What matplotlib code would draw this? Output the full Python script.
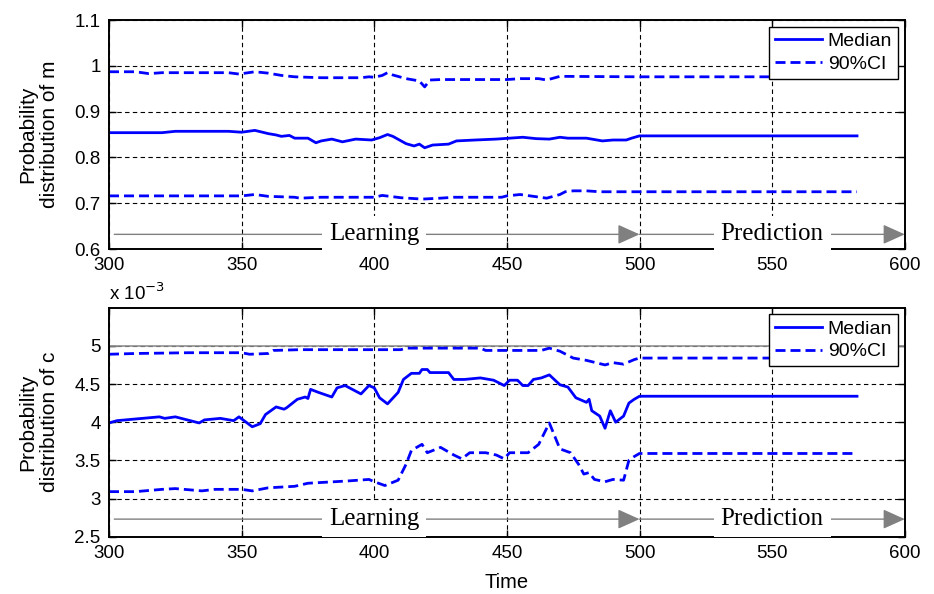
import matplotlib.pyplot as plt
import numpy as np

# ---- data ----
# parameter m
t_m_med = [300, 320, 325, 345, 350, 355, 360, 363, 365, 368, 370, 375, 378, 380, 384, 388, 393, 399,
           402, 405, 407, 412, 415, 417, 419, 422, 428, 431, 438, 446, 456, 461, 466, 470, 473, 480,
           486, 490, 495, 497, 500, 582]
m_med = [0.854, 0.854, 0.857, 0.857, 0.855, 0.859, 0.852, 0.849, 0.846, 0.848, 0.842, 0.842, 0.832,
         0.836, 0.840, 0.834, 0.840, 0.838, 0.843, 0.850, 0.846, 0.830, 0.825, 0.829, 0.821, 0.827,
         0.829, 0.836, 0.838, 0.840, 0.844, 0.841, 0.840, 0.844, 0.842, 0.842, 0.836, 0.838, 0.838,
         0.842, 0.847, 0.847]

t_m_hi = [300, 310, 315, 320, 345, 349, 355, 360, 365, 370, 375, 380, 395, 398, 400, 403, 405, 407,
          412, 417, 419, 421, 425, 450, 455, 462, 465, 470, 500, 582]
m_hi = [0.987, 0.987, 0.983, 0.985, 0.985, 0.982, 0.987, 0.984, 0.979, 0.976, 0.975, 0.974, 0.974,
        0.976, 0.975, 0.979, 0.985, 0.980, 0.972, 0.967, 0.954, 0.969, 0.970, 0.970, 0.972, 0.972,
        0.969, 0.977, 0.976, 0.976]

t_m_lo = [300, 350, 355, 360, 370, 372, 380, 400, 403, 410, 418, 425, 430, 448, 450, 455, 460, 465,
          470, 472, 475, 480, 485, 500, 582]
m_lo = [0.716, 0.716, 0.719, 0.715, 0.713, 0.711, 0.713, 0.713, 0.717, 0.712, 0.709, 0.711, 0.713,
        0.713, 0.716, 0.719, 0.715, 0.711, 0.719, 0.725, 0.727, 0.727, 0.725, 0.725, 0.725]

# parameter c (x 10^-3)
t_c_med = [300, 303, 319, 321, 325, 334, 336, 342, 347, 349, 354, 357, 359, 363, 366, 367, 371, 374,
           375, 376, 379, 384, 386, 389, 395, 398, 400, 402, 405, 409, 411, 414, 417, 418, 420, 421,
           428, 430, 434, 440, 445, 449, 451, 454, 456, 458, 460, 463, 466, 470, 473, 476, 480, 481,
           482, 485, 487, 489, 491, 494, 496, 498, 500, 582]
c_med = [3.99, 4.02, 4.07, 4.05, 4.07, 3.99, 4.03, 4.05, 4.02, 4.07, 3.94, 3.98, 4.10, 4.20, 4.17,
         4.19, 4.30, 4.33, 4.31, 4.43, 4.39, 4.33, 4.45, 4.48, 4.37, 4.48, 4.45, 4.32, 4.24, 4.39,
         4.56, 4.64, 4.64, 4.69, 4.69, 4.65, 4.65, 4.56, 4.56, 4.58, 4.55, 4.48, 4.55, 4.55, 4.48,
         4.48, 4.56, 4.58, 4.62, 4.49, 4.46, 4.32, 4.26, 4.30, 4.15, 4.08, 3.92, 4.15, 4.00, 4.08,
         4.25, 4.30, 4.34, 4.34]

t_c_hi = [300, 310, 330, 350, 353, 360, 362, 372, 410, 412, 440, 442, 463, 466, 470, 475, 480, 487,
          490, 494, 498, 500, 582]
c_hi = [4.89, 4.90, 4.91, 4.91, 4.89, 4.90, 4.94, 4.95, 4.95, 4.97, 4.97, 4.94, 4.94, 4.97, 4.93,
        4.84, 4.81, 4.75, 4.78, 4.76, 4.82, 4.84, 4.84]

t_c_lo = [300, 310, 320, 325, 335, 340, 350, 354, 360, 370, 375, 380, 390, 398, 400, 404, 409, 412,
          414, 418, 420, 425, 430, 433, 436, 442, 446, 449, 451, 458, 462, 466, 470, 474, 477, 479,
          481, 483, 487, 490, 494, 496, 498, 500, 582]
c_lo = [3.09, 3.09, 3.12, 3.13, 3.10, 3.12, 3.12, 3.10, 3.14, 3.16, 3.20, 3.21, 3.23, 3.25, 3.22,
        3.17, 3.24, 3.45, 3.63, 3.71, 3.60, 3.67, 3.57, 3.52, 3.60, 3.60, 3.57, 3.52, 3.60, 3.60,
        3.71, 3.99, 3.65, 3.60, 3.45, 3.32, 3.34, 3.25, 3.22, 3.25, 3.24, 3.50, 3.55, 3.59, 3.59]

x_ticks = [300, 350, 400, 450, 500, 550, 600]
m_ticks = [0.6, 0.7, 0.8, 0.9, 1.0, 1.1]
c_ticks = [2.5, 3, 3.5, 4, 4.5, 5]

plt.rcParams['font.family'] = ['Liberation Sans', 'DejaVu Sans']
plt.rcParams['font.size'] = 13.5

fig = plt.figure(figsize=(9.34, 5.94), dpi=100)
ax1 = fig.add_axes([0.1167, 0.5808, 0.852, 0.3855])
ax2 = fig.add_axes([0.1167, 0.0965, 0.852, 0.3855])

blue = '#0000ff'
dash = (0, (3.6, 1.8))
lw = 2.0

def style(ax, yticks, ylim):
    ax.set_xlim(300, 600)
    ax.set_ylim(*ylim)
    ax.set_xticks(x_ticks)
    ax.set_yticks(yticks)
    ax.set_yticklabels(['%g' % v for v in yticks])
    ax.grid(True, color='black', linestyle=(0, (4, 3)), linewidth=0.8)
    ax.set_axisbelow(True)
    ax.tick_params(direction='in', top=True, right=True, length=5, width=1, labelsize=13.5, pad=6)
    for s in ax.spines.values():
        s.set_linewidth(1.4)

def arrows(ax, y):
    kw = dict(arrowstyle='-|>,head_length=1.0,head_width=0.45', color='#808080', lw=1.0,
              shrinkA=0, shrinkB=0)
    ax.annotate('', xy=(500, y), xytext=(302, y), arrowprops=kw)
    ax.annotate('', xy=(600, y), xytext=(500, y), arrowprops=kw)
    tb = dict(facecolor='white', edgecolor='none', pad=5)
    ax.text(400, y, 'Learning', family='Liberation Serif', fontsize=18, ha='center', va='center', bbox=tb)
    ax.text(550, y, 'Prediction', family='Liberation Serif', fontsize=18, ha='center', va='center', bbox=tb)

def legend(ax):
    ax.legend(loc='upper right', fancybox=False, edgecolor='black', framealpha=1, handlelength=2.4,
              borderaxespad=0.35, borderpad=0.3, labelspacing=0.25, handletextpad=0.3, fontsize=14)

# top panel: m
style(ax1, m_ticks, (0.6, 1.1))
ax1.plot(t_m_med, m_med, color=blue, lw=lw, label='Median')
ax1.plot(t_m_hi, m_hi, color=blue, lw=lw, linestyle=dash, label='90%CI')
ax1.plot(t_m_lo, m_lo, color=blue, lw=lw, linestyle=dash)
arrows(ax1, 0.632)
ax1.set_ylabel('Probability\ndistribution of m', fontsize=15, linespacing=1.2, labelpad=11)
legend(ax1)

# bottom panel: c
style(ax2, c_ticks, (2.5, 5.5))
ax2.axhline(5, color='#909090', lw=1.2, zorder=1.5)
ax2.plot(t_c_med, c_med, color=blue, lw=lw, label='Median')
ax2.plot(t_c_hi, c_hi, color=blue, lw=lw, linestyle=dash, label='90%CI')
ax2.plot(t_c_lo, c_lo, color=blue, lw=lw, linestyle=dash)
arrows(ax2, 2.73)
ax2.set_ylabel('Probability\ndistribution of c', fontsize=15, linespacing=1.2, labelpad=11)
ax2.set_xlabel('Time', fontsize=14.5, labelpad=8)
ax2.text(0.0, 1.015, 'x 10$^{-3}$', transform=ax2.transAxes, fontsize=13.5, ha='left', va='bottom')
legend(ax2)

fig.savefig('out.png', dpi=100)
